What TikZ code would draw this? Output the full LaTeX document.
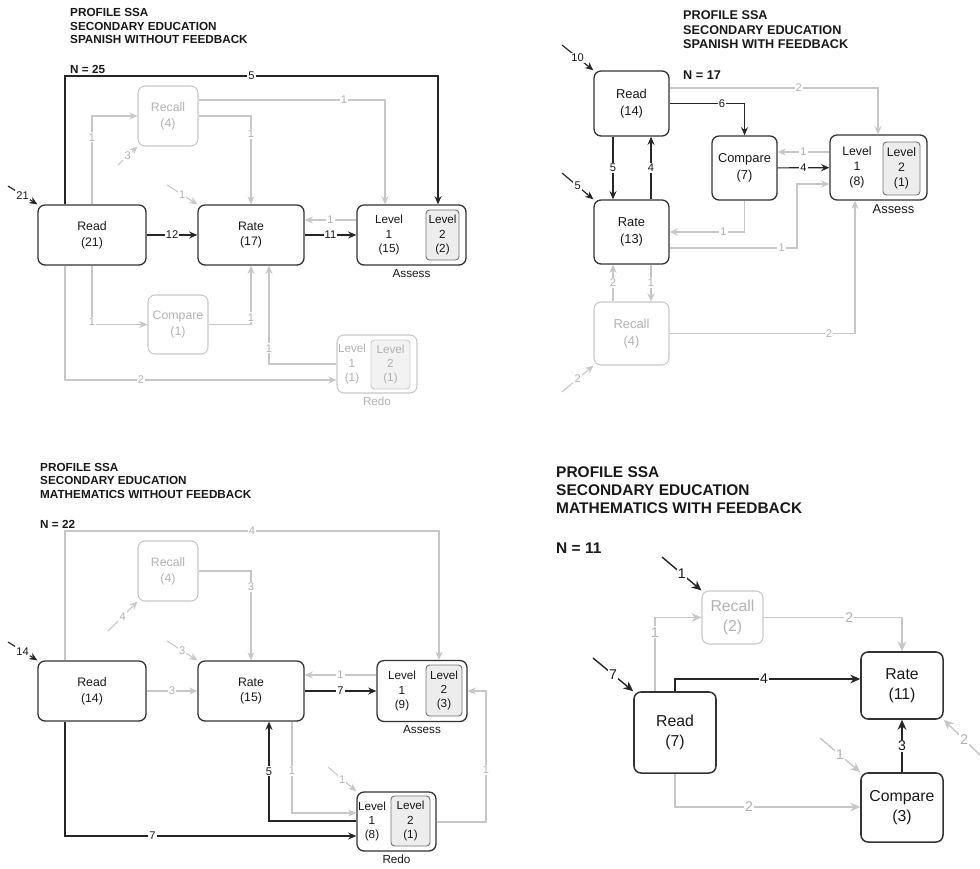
\documentclass[tikz,border=0pt]{standalone}
\usepackage{fontspec}
\setmainfont{Liberation Sans}
\usetikzlibrary{arrows.meta}

\begin{document}
\begin{tikzpicture}[x=0.03cm, y=-0.03cm,
  stage/.style={draw=black!80, line width=1.1pt, rounded corners=6pt, align=center,
    inner sep=0pt, text=black!90, font=\fontsize{10.5}{13.5}\selectfont},
  faint/.style={stage, draw=black!22, line width=0.9pt, text=black!30},
  grade/.style={draw=black!55, fill=black!7, line width=0.8pt, rounded corners=3pt,
    align=center, inner sep=0pt, text=black!90, font=\fontsize{10}{12}\selectfont},
  fgrade/.style={grade, draw=black!20, fill=black!5, text=black!30},
  lvtext/.style={align=center, inner sep=0pt, text=black!90, font=\fontsize{10}{12}\selectfont},
  boxcap/.style={anchor=north, inner sep=3pt, text=black!90, font=\fontsize{10}{11}\selectfont},
  heading/.style={anchor=north west, align=left, inner sep=0pt, text=black!90,
    font=\fontsize{10}{11.5}\selectfont\bfseries},
  mid/.style={font=\fontsize{11}{14.2}\selectfont},
  big/.style={font=\fontsize{13.5}{17.5}\selectfont},
  blk/.style={draw=black!85, line width=1pt, -{Stealth[length=7pt,width=6pt]}},
  gry/.style={draw=black!22, line width=0.9pt, -{Stealth[length=7pt,width=6pt]}},
  bigarr/.style={line width=1.2pt, -{Stealth[length=8.5pt,width=7.5pt]}},
  lbl/.style={fill=white, inner sep=1pt, text=black!90, font=\fontsize{9.5}{10}\selectfont},
  glbl/.style={lbl, text=black!30},
  biglbl/.style={font=\fontsize{12}{13}\selectfont}]
\useasboundingbox (0,0) rectangle (980,868);

% top left: spanish without feedback
\node[heading] (titleA) at (70,8.5) {PROFILE SSA\\SECONDARY EDUCATION\\SPANISH WITHOUT FEEDBACK};
\node[heading] (nA) at (70,65) {N = 25};
\node[stage, minimum width=3.24cm, minimum height=1.8cm] (readA) at (92,235) {Read\\(21)};
\node[stage, minimum width=3.18cm, minimum height=1.8cm] (rateA) at (251,235) {Rate\\(17)};
\node[faint, minimum width=1.8cm, minimum height=1.8cm] (recallA) at (168,116) {Recall\\(4)};
\node[faint, minimum width=1.8cm, minimum height=1.77cm] (compareA) at (178,324.5) {Compare\\(1)};
\node[stage, minimum width=3.27cm, minimum height=1.8cm] (assessA) at (411.5,235) {};
\node[lvtext] (lv1A) at (389,235) {Level\\1\\(15)};
\node[grade, minimum width=0.99cm, minimum height=1.5cm] (lv2A) at (442.5,235) {Level\\2\\(2)};
\node[boxcap] (capA) at (assessA.south) {Assess};
\node[faint, minimum width=2.4cm, minimum height=1.74cm] (redoA) at (377,364) {};
\node[lvtext, text=black!30] (rlv1A) at (352,364) {Level\\1\\(1)};
\node[fgrade, minimum width=1.17cm, minimum height=1.47cm] (rlv2A) at (390.5,364.5) {Level\\2\\(1)};
\node[boxcap, text=black!30] (rcapA) at (redoA.south) {Redo};

\draw[gry] (167,185) -- node[glbl]{1} (rateA.north west);
\draw[gry] (118,165) -- node[glbl]{3} (recallA.south west);
\draw[gry] (readA.north) |- node[glbl,pos=0.38]{1} (recallA.west);
\draw[gry] (recallA.east) -| node[glbl,pos=0.6]{1} (rateA.north);
\draw[gry] (recallA.east |- 0,100) -| node[glbl,pos=0.39]{1} (assessA.north -| 385,0);
\draw[gry] (assessA.west |- 0,220) -- node[glbl]{1} (rateA.east |- 0,220);
\draw[gry] (readA.south) |- node[glbl,pos=0.48]{1} (compareA.west);
\draw[gry] (compareA.east) -| node[glbl,pos=0.56]{1} (rateA.south);
\draw[gry] (redoA.west |- 0,364) -| node[glbl,pos=0.58]{1} (rateA.south -| 269,0);
\draw[gry] (readA.south -| 65,0) |- node[glbl,pos=0.64]{2} (redoA.west |- 0,380);
\draw[blk] (8,186) -- node[lbl]{21} (readA.north west);
\draw[blk] (readA.north -| 65,0) -- (65,76) -| node[lbl,pos=0.25]{5} (assessA.north -| 438,0);
\draw[blk] (readA) -- node[lbl]{12} (rateA);
\draw[blk] (rateA) -- node[lbl]{11} (assessA);

% top right: spanish with feedback
\node[heading, font=\fontsize{10.8}{12.75}\selectfont\bfseries] (titleB) at (683,10) {PROFILE SSA\\SECONDARY EDUCATION\\SPANISH WITH FEEDBACK};
\node[heading, font=\fontsize{10.8}{12.75}\selectfont\bfseries] (nB) at (683,71) {N = 17};
\node[stage, mid, minimum width=2.25cm, minimum height=1.95cm] (readB) at (631.5,103.5) {Read\\(14)};
\node[stage, mid, minimum width=2.25cm, minimum height=1.92cm] (rateB) at (631.5,232) {Rate\\(13)};
\node[stage, mid, minimum width=1.95cm, minimum height=1.92cm] (compareB) at (744.5,168) {Compare\\(7)};
\node[stage, minimum width=2.91cm, minimum height=1.95cm] (assessB) at (878.5,167.5) {};
\node[lvtext, font=\fontsize{10.5}{13}\selectfont] (lv1B) at (857,167.5) {Level\\1\\(8)};
\node[grade, font=\fontsize{10.5}{13}\selectfont, minimum width=1.11cm, minimum height=1.59cm] (lv2B) at (901.5,168.5) {Level\\2\\(1)};
\node[boxcap, mid, xshift=0.45cm] (capB) at (assessB.south) {Assess};
\node[faint, mid, minimum width=2.25cm, minimum height=1.89cm] (recallB) at (631.5,333.5) {Recall\\(4)};

\draw[gry] (562,392) -- node[glbl]{2} (recallB.south west);
\draw[gry] (readB.east |- 0,88) -| node[glbl,pos=0.31]{2} (assessB.north -| 878,0);
\draw[gry] (assessB.west |- 0,152) -- node[glbl]{1} (compareB.east |- 0,152);
\draw[gry] (compareB.south) |- node[glbl,pos=0.64]{1} (rateB.east);
\draw[gry] (rateB.east |- 0,248) -- node[glbl,pos=0.88]{1} (797,248) |- (assessB.west |- 0,184);
\draw[gry] (recallB.north -| 613,0) -- node[glbl]{2} (rateB.south -| 613,0);
\draw[gry] (rateB.south -| 651,0) -- node[glbl]{1} (recallB.north -| 651,0);
\draw[gry] (recallB.east) -| node[glbl,pos=0.43]{2} (assessB.south -| 855,0);
\draw[blk] (562,45) -- node[lbl]{10} (readB.north west);
\draw[blk] (562,173) -- node[lbl]{5} (rateB.north west);
\draw[blk] (readB.south -| 613,0) -- node[lbl]{5} (rateB.north -| 613,0);
\draw[blk] (rateB.north -| 651,0) -- node[lbl]{4} (readB.south -| 651,0);
\draw[blk] (readB.east) -| node[lbl,pos=0.35]{6} (compareB.north);
\draw[blk] (compareB) -- node[lbl]{4} (assessB);

% bottom left: mathematics without feedback
\node[heading] (titleC) at (40,463) {PROFILE SSA\\SECONDARY EDUCATION\\MATHEMATICS WITHOUT FEEDBACK};
\node[heading] (nC) at (40,520) {N = 22};
\node[stage, minimum width=3.24cm, minimum height=1.8cm] (readC) at (92,691) {Read\\(14)};
\node[stage, minimum width=3.18cm, minimum height=1.8cm] (rateC) at (251,691) {Rate\\(15)};
\node[faint, minimum width=1.8cm, minimum height=1.8cm] (recallC) at (168,571) {Recall\\(4)};
\node[stage, minimum width=2.7cm, minimum height=1.83cm] (assessC) at (422,691) {};
\node[lvtext] (lv1C) at (402,691) {Level\\1\\(9)};
\node[grade, minimum width=1.08cm, minimum height=1.53cm] (lv2C) at (444,690.5) {Level\\2\\(3)};
\node[boxcap] (capC) at (assessC.south) {Assess};
\node[stage, minimum width=2.37cm, minimum height=1.77cm] (redoC) at (396.5,821.5) {};
\node[lvtext] (rlv1C) at (372,821.5) {Level\\1\\(8)};
\node[grade, minimum width=1.17cm, minimum height=1.5cm] (rlv2C) at (410.5,821) {Level\\2\\(1)};
\node[boxcap] (rcapC) at (redoC.south) {Redo};

\draw[gry] (167,641) -- node[glbl]{3} (rateC.north west);
\draw[gry] (108,631) -- node[glbl]{4} (recallC.south west);
\draw[gry] (328,767) -- node[glbl]{1} (redoC.north west);
\draw[gry] (readC.north -| 65,0) -- (65,531) -| node[glbl,pos=0.25]{4} (assessC.north -| 439,0);
\draw[gry] (recallC.east) -| node[glbl,pos=0.59]{3} (rateC.north);
\draw[gry] (readC) -- node[glbl]{3} (rateC);
\draw[gry] (assessC.west |- 0,675) -- node[glbl]{1} (rateC.east |- 0,675);
\draw[gry] (redoC.east |- 0,822) -- (486,822) |- node[glbl,pos=0.2]{1} (assessC.east);
\draw[gry] (rateC.south -| 292,0) |- node[glbl,pos=0.27]{1} (redoC.west |- 0,813);
\draw[blk] (8,642) -- node[lbl]{14} (readC.north west);
\draw[blk] (rateC) -- node[lbl]{7} (assessC);
\draw[blk] (redoC.west |- 0,821) -| node[lbl,pos=0.75]{5} (rateC.south -| 269,0);
\draw[blk] (readC.south -| 65,0) |- node[lbl,pos=0.65]{7} (redoC.west |- 0,836);

% bottom right: mathematics with feedback
\node[heading, font=\fontsize{13.2}{15.7}\selectfont\bfseries] (titleD) at (556,466) {PROFILE SSA\\SECONDARY EDUCATION\\MATHEMATICS WITH FEEDBACK};
\node[heading, font=\fontsize{13.2}{15.7}\selectfont\bfseries] (nD) at (556,543) {N = 11};
\node[faint, big, minimum width=1.83cm, minimum height=1.59cm] (recallD) at (732.5,617.5) {Recall\\(2)};
\node[stage, big, line width=1.3pt, minimum width=2.46cm, minimum height=2.43cm] (readD) at (675,732.5) {Read\\(7)};
\node[stage, big, line width=1.3pt, minimum width=2.46cm, minimum height=2.01cm] (rateD) at (902,685.5) {Rate\\(11)};
\node[stage, big, line width=1.3pt, minimum width=2.46cm, minimum height=2.07cm] (compareD) at (902,807.5) {Compare\\(3)};

\draw[gry, bigarr] (readD.north -| 655,0) |- node[glbl,biglbl,pos=0.4]{1} (recallD.west);
\draw[gry, bigarr] (recallD.east) -| node[glbl,biglbl,pos=0.31]{2} (rateD.north);
\draw[gry, bigarr] (readD.south) |- node[glbl,biglbl,pos=0.7]{2} (compareD.west |- 0,807);
\draw[gry, bigarr] (820,738) -- node[glbl,biglbl]{1} (compareD.north west);
\draw[gry, bigarr] (985,760) -- node[glbl,biglbl]{2} (rateD.south east);
\draw[blk, bigarr] (662,557) -- node[lbl,biglbl]{1} (recallD.north west);
\draw[blk, bigarr] (593,658) -- node[lbl,biglbl]{7} (readD.north west);
\draw[blk, bigarr] (readD.north) |- node[lbl,biglbl,pos=0.74]{4} (rateD.west |- 0,679);
\draw[blk, bigarr] (compareD) -- node[lbl,biglbl]{3} (rateD);
\end{tikzpicture}
\end{document}
